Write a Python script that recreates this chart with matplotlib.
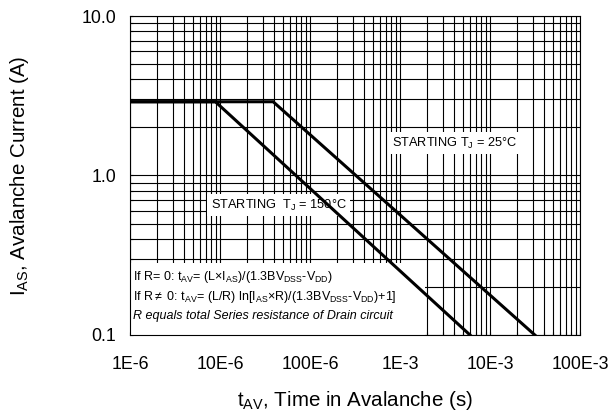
import matplotlib
matplotlib.use("Agg")
import matplotlib.pyplot as plt
from matplotlib.patches import Rectangle
from matplotlib.ticker import FixedLocator, LogLocator, NullFormatter

plt.rcParams['font.family'] = ['Liberation Sans', 'DejaVu Sans']
plt.rcParams['mathtext.fontset'] = 'custom'
plt.rcParams['mathtext.rm'] = 'Liberation Sans'
plt.rcParams['mathtext.it'] = 'Liberation Sans:italic'

# avalanche curves
t_25 = [1e-6, 3.9e-5, 3.15e-2]
i_25 = [2.9, 2.9, 0.1]
t_150 = [1e-6, 8.9e-6, 6.0e-3]
i_150 = [2.9, 2.9, 0.1]

x_ticks = [1e-6, 1e-5, 1e-4, 1e-3, 1e-2, 1e-1]
x_labels = ['1E-6', '10E-6', '100E-6', '1E-3', '10E-3', '100E-3']
y_ticks = [0.1, 1.0, 10.0]
y_labels = ['0.1', '1.0', '10.0']

fig = plt.figure(figsize=(6.16, 4.18), dpi=100)
ax = fig.add_axes([0.211, 0.1986, 0.7305, 0.7631])

ax.plot(t_25, i_25, color='black', lw=2.2, zorder=5, solid_joinstyle='miter')
ax.plot(t_150, i_150, color='black', lw=2.2, zorder=5, solid_joinstyle='miter')

ax.set_xscale('log')
ax.set_yscale('log')
ax.set_xlim(1e-6, 1e-1)
ax.set_ylim(0.1, 10)

ax.xaxis.set_major_locator(FixedLocator(x_ticks))
ax.set_xticklabels(x_labels)
ax.yaxis.set_major_locator(FixedLocator(y_ticks))
ax.set_yticklabels(y_labels)
ax.xaxis.set_minor_locator(LogLocator(base=10, subs=range(2, 10), numticks=20))
ax.yaxis.set_minor_locator(LogLocator(base=10, subs=range(2, 10), numticks=20))
ax.xaxis.set_minor_formatter(NullFormatter())
ax.yaxis.set_minor_formatter(NullFormatter())

ax.tick_params(which='both', direction='in', length=2.5, width=0.8, labelsize=12.8)
ax.tick_params(axis='x', pad=15)
ax.tick_params(axis='y', pad=10)

ax.grid(True, which='both', color='black', lw=0.8)
ax.set_axisbelow(True)
for s in ax.spines.values():
    s.set_linewidth(0.8)

# white panel for the formula notes
ax.add_patch(Rectangle((0.0, 0.0), 0.655, 0.226, transform=ax.transAxes,
                       facecolor='white', edgecolor='none', zorder=2.5))
note_size = 9
ax.text(0.007, 0.182, r'If R= 0: t$_{\mathrm{AV}}$= (L×I$_{\mathrm{AS}}$)/(1.3BV$_{\mathrm{DSS}}$-V$_{\mathrm{DD}}$)',
        transform=ax.transAxes, fontsize=note_size, va='center', ha='left', zorder=3)
ax.text(0.007, 0.119, r'If R$\neq$ 0: t$_{\mathrm{AV}}$= (L/R) ln[I$_{\mathrm{AS}}$×R)/(1.3BV$_{\mathrm{DSS}}$-V$_{\mathrm{DD}}$)+1]',
        transform=ax.transAxes, fontsize=note_size, va='center', ha='left', zorder=3)
ax.text(0.007, 0.060, 'R equals total Series resistance of Drain circuit',
        transform=ax.transAxes, fontsize=note_size, va='center', ha='left', style='italic', zorder=3)

box = dict(facecolor='white', edgecolor='none', pad=2.5)
ax.text(0.722, 0.602, r'STARTING T$_{\mathrm{J}}$ = 25°C', transform=ax.transAxes,
        fontsize=9.2, ha='center', va='center', bbox=box, zorder=3)
ax.text(0.33, 0.4075, r'STARTING  T$_{\mathrm{J}}$ = 150°C', transform=ax.transAxes,
        fontsize=9.2, ha='center', va='center', bbox=box, zorder=3)

ax.set_xlabel(r't$_{\mathrm{AV}}$, Time in Avalanche (s)', fontsize=14.8, labelpad=12)
ax.set_ylabel(r'I$_{\mathrm{AS}}$, Avalanche Current (A)', fontsize=14.8, labelpad=36)

fig.savefig('out.png', dpi=100)
